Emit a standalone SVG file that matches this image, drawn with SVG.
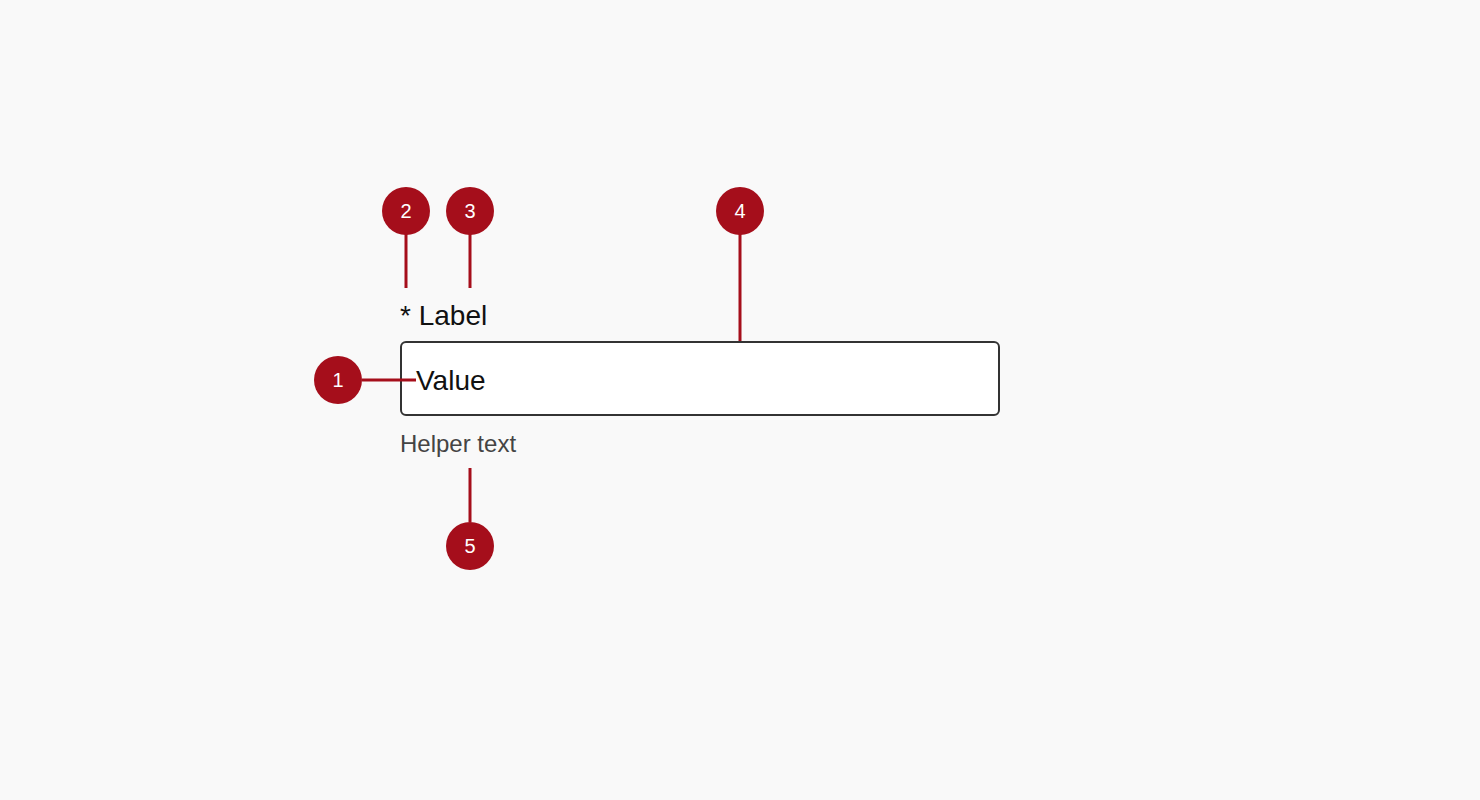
<svg xmlns="http://www.w3.org/2000/svg" width="1480" height="800" viewBox="0 0 1480 800">
<style>
.m{fill:#a50e1b}
.mt{fill:#fff;font-family:"Liberation Sans",Arial,sans-serif;font-size:20px;text-anchor:middle}
.c{stroke:#a50e1b;stroke-width:3;fill:none}
.t{font-family:"Liberation Sans",Arial,sans-serif}
</style>
<rect width="1480" height="800" fill="#f9f9f9"/>
<g id="field">
<text class="t" x="400" y="325" font-size="28" fill="#111">* Label</text>
<rect x="401" y="342" width="598" height="73" rx="5" fill="#fff" stroke="#333" stroke-width="2"/>
<text class="t" x="416" y="390" font-size="28" fill="#111">Value</text>
<text class="t" x="400" y="452" font-size="24" fill="#444">Helper text</text>
</g>
<g id="connectors">
<line class="c" x1="406" y1="234" x2="406" y2="288"/>
<line class="c" x1="470" y1="234" x2="470" y2="288"/>
<line class="c" x1="740" y1="234" x2="740" y2="341"/>
<line class="c" x1="362" y1="380" x2="416" y2="380"/>
<line class="c" x1="470" y1="468" x2="470" y2="522"/>
</g>
<g id="m1"><circle class="m" cx="338" cy="380" r="24"/><text class="mt" x="338" y="387">1</text></g>
<g id="m2"><circle class="m" cx="406" cy="211" r="24"/><text class="mt" x="406" y="218">2</text></g>
<g id="m3"><circle class="m" cx="470" cy="211" r="24"/><text class="mt" x="470" y="218">3</text></g>
<g id="m4"><circle class="m" cx="740" cy="211" r="24"/><text class="mt" x="740" y="218">4</text></g>
<g id="m5"><circle class="m" cx="470" cy="546" r="24"/><text class="mt" x="470" y="553">5</text></g>
</svg>
